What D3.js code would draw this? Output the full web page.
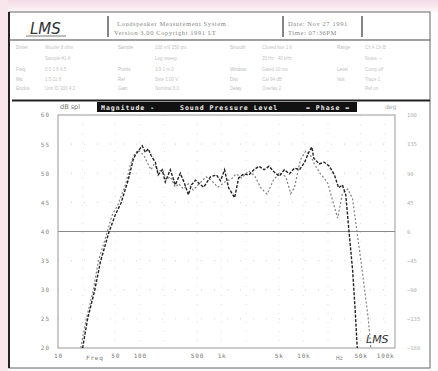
<!DOCTYPE html>
<html><head><meta charset="utf-8">
<script src="https://cdn.jsdelivr.net/npm/d3@7"></script>
<style>html,body{margin:0;padding:0;background:#fff;}svg{display:block;}</style>
</head><body>
<svg id="c" width="438" height="371"></svg>
<script>
// ---- data ----
const yTicks = [20,25,30,35,40,45,50,55,60];
const phaseTicks = [-180,-135,-90,-45,0,45,90,135,180];
const xTickVals = [10,50,100,500,1000,5000,10000,50000,100000];
const xTickLabels = ["10","50","100","500","1k","5k","10k","50k","100k"];
const magFreq = [20,23,28,33,42,50,59,72,83,88,98,107,117,127,138,155,168,188,205,236,272,313,351,393,428,481,536,604,732,867,971,1088,1219,1444,1618,1866,2153,2484,2866,3306,3814,4400,5076,5856,6757,7795,8993,10375,11650,12700,13400,15600,18000,20800,24000,27000,30000,33000,36000,40000,43000,45600];
const magDb = [20,25,29.8,34.8,39.9,42.8,44.9,48.8,52.3,53.1,54,54.7,53.6,54.2,53,51.9,49.7,50.6,48.5,50.6,48,50,48.3,46.3,48,48.8,48.2,47.6,49.4,49.7,48.7,50.6,47.5,45.8,49.2,49.9,49.7,50.6,51.2,50.6,51.2,50.2,49.5,50.6,49.9,50.9,50.6,51.9,53.6,54.5,52.6,51.6,51.9,51.2,49.7,47.5,48,46.3,40.3,33.4,26.5,20];
const refFreq = [19,22,27,31,39,46,54,67,77,85,95,112,125,137,150,168,190,210,236,272,300,340,393,450,540,650,760,900,1100,1340,1500,1760,2150,2550,3050,3600,4300,5100,6100,7000,7800,9200,10700,12200,13600,16200,18000,20000,23300,26300,30000,35000,40000,45000,50000,56000,62000,67000];
const refDb = [20,24.8,29.9,34.8,39.4,42.8,44.6,48.1,51.5,53.1,54,53.1,51.7,50.6,51.6,50.3,50.6,48.9,49.4,47.6,48.2,47.3,48.2,47.1,48.3,49.4,48.7,47.6,48.5,49.1,49.9,49.2,50.4,49.5,47.4,46.4,48.8,50.1,49.4,46.5,47.6,52.3,53.8,53.1,51.6,49.9,49.1,48.2,44.8,42.3,46.5,47.3,45.6,40.2,35.5,30.1,25.2,20];

// ---- page ----
const svg = d3.select("#c");
const defs = svg.append("defs");
const g1 = defs.append("linearGradient").attr("id","pink").attr("x1",0).attr("y1",0).attr("x2",0).attr("y2",1);
g1.append("stop").attr("offset","0").attr("stop-color","#f3d9e4");
g1.append("stop").attr("offset","1").attr("stop-color","#fdf7f9");
svg.append("rect").attr("width",438).attr("height",371).attr("fill","#fefcfc");
svg.append("rect").attr("width",438).attr("height",12).attr("fill","url(#pink)");
svg.append("rect").attr("width",8).attr("height",371).attr("fill","#f8e6ed");

// outer frame
svg.append("rect").attr("x",9).attr("y",12).attr("width",421).attr("height",356)
  .attr("fill","#fff").attr("stroke","#666").attr("stroke-width",1);
svg.append("line").attr("x1",9).attr("x2",9).attr("y1",12).attr("y2",368).attr("stroke","#222").attr("stroke-width",2);

// header row
svg.append("line").attr("x1",9).attr("x2",430).attr("y1",40).attr("y2",40).attr("stroke","#444").attr("stroke-width",1.2);
[108,283,362].forEach(x=>svg.append("line").attr("x1",x).attr("x2",x).attr("y1",16).attr("y2",37).attr("stroke","#333").attr("stroke-width",1.2));
svg.append("text").attr("x",30).attr("y",34).attr("font-family","DejaVu Sans").attr("font-style","italic")
  .attr("font-size",15).attr("fill","#333").text("LMS");
svg.append("line").attr("x1",26).attr("x2",66).attr("y1",36).attr("y2",36).attr("stroke","#555").attr("stroke-width",0.8);
const hdr = [
  [117,26,"Loudspeaker Measurement System"],[114,35,"Version 3.00   Copyright 1991 LT"],
  [288,26,"Date: Nov 27 1991"],[288,35,"Time: 07:36PM"]];
hdr.forEach(d=>svg.append("text").attr("x",d[0]).attr("y",d[1]).attr("font-family","Liberation Serif")
  .attr("font-size",6.5).attr("fill","#888").attr("letter-spacing",0.6).text(d[2]));

// spec table (faint)
const rowsY = [49,60,71,81,90];
const labelCols = [16,118,230,337];
const valCols = [45,155,262,365];
const labels = [["Driver","","Freq","Mic","Enclos"],["Sample","","Points","Ref","Gain"],["Smooth","","Window","Dist","Delay"],["Range","","Level","Volt",""]];
const vals = [["Woofer 8 ohm","Sample #1 A","  0.5  1.6  4.5","  1.5  11  8","Unit ID 300 4 2"],
  ["100 mV  250 pts","Log sweep","1/3  1 m  0","Sine  1.00 V","Nominal 8.0"],
  ["Closed box  1 ft","20 Hz - 40 kHz","Gated  10 ms","Cal 94 dB","Overlay  2"],
  ["Ch A  Ch B","Notes  ---","Comp  off","Trace  1","Ref  on"]];
labels.forEach((col,i)=>col.forEach((t,j)=>svg.append("text").attr("x",labelCols[i]).attr("y",rowsY[j])
  .attr("font-family","Liberation Sans").attr("font-size",4.5).attr("fill","#bbb").text(t)));
vals.forEach((col,i)=>col.forEach((t,j)=>svg.append("text").attr("x",valCols[i]).attr("y",rowsY[j])
  .attr("font-family","Liberation Sans").attr("font-size",4.5).attr("fill","#c4c4c4").text(t)));
svg.append("line").attr("x1",12).attr("x2",430).attr("y1",100.5).attr("y2",100.5).attr("stroke","#222").attr("stroke-width",2);

// ---- chart ----
const L=58,R=395,T=115,B=348;
const x = d3.scaleLog().domain([10,132000]).range([L,R]);
const y = d3.scaleLinear().domain([20,60]).range([B,T]);
const yP = d3.scaleLinear().domain([-180,180]).range([B,T]);

// grid
const gridF = [20,50,100,200,500,1000,2000,5000,10000,20000,50000,100000];
svg.append("g").selectAll("line").data(gridF).join("line")
  .attr("x1",d=>x(d)).attr("x2",d=>x(d)).attr("y1",T).attr("y2",B)
  .attr("stroke","#d4d4d4").attr("stroke-width",0.8).attr("stroke-dasharray","1,8");
svg.append("g").selectAll("line").data(yTicks.slice(1,-1)).join("line")
  .attr("x1",L).attr("x2",R).attr("y1",d=>y(d)).attr("y2",d=>y(d))
  .attr("stroke","#c8c8c8").attr("stroke-width",0.8).attr("stroke-dasharray","1,12");
svg.append("line").attr("x1",L).attr("x2",R).attr("y1",y(40)).attr("y2",y(40)).attr("stroke","#888").attr("stroke-width",1);
svg.append("rect").attr("x",L).attr("y",T).attr("width",R-L).attr("height",B-T)
  .attr("fill","none").attr("stroke","#999").attr("stroke-width",1);

// axes
const yAx = svg.append("g").attr("transform",`translate(${L},0)`)
  .call(d3.axisLeft(y).tickValues(yTicks).tickSize(0).tickPadding(8).tickFormat(d3.format("d")));
yAx.select(".domain").remove();
yAx.selectAll("text").attr("font-family","DejaVu Sans Mono").attr("font-size",6).attr("fill","#888").attr("letter-spacing",1);
const pAx = svg.append("g").attr("transform",`translate(${R},0)`)
  .call(d3.axisRight(yP).tickValues(phaseTicks).tickSize(0).tickPadding(12).tickFormat(d3.format("d")));
pAx.select(".domain").remove();
pAx.selectAll("text").attr("font-family","DejaVu Sans Mono").attr("font-size",5.5).attr("fill","#b0b0b0");
const xAx = svg.append("g").attr("transform",`translate(0,${B})`)
  .call(d3.axisBottom(x).tickValues(xTickVals).tickSize(0).tickPadding(6).tickFormat((d,i)=>xTickLabels[i]));
xAx.select(".domain").remove();
xAx.selectAll("text").attr("font-family","DejaVu Sans Mono").attr("font-size",6).attr("fill","#777").attr("letter-spacing",0.8);
svg.append("text").attr("x",x(22)).attr("y",B+12).attr("font-family","DejaVu Sans Mono").attr("font-size",6)
  .attr("fill","#777").attr("letter-spacing",0.8).text("Freq");
svg.append("text").attr("x",x(25000)).attr("y",B+12).attr("font-family","DejaVu Sans Mono").attr("font-size",6)
  .attr("fill","#888").text("Hz");

svg.append("text").attr("x",L+2).attr("y",T-6).attr("font-family","DejaVu Sans").attr("font-size",6.5)
  .attr("fill","#777").text("dB spl");
svg.append("text").attr("x",R-10).attr("y",T-6).attr("font-family","DejaVu Sans").attr("font-size",6)
  .attr("fill","#aaa").text("deg");

// title bar
svg.append("rect").attr("x",97).attr("y",102).attr("width",260).attr("height",10).attr("fill","#111");
[[101,"Magnitude -"],[180,"Sound Pressure Level"],[306,"= Phase ="]].forEach(d=>
  svg.append("text").attr("x",d[0]).attr("y",110).attr("font-family","DejaVu Sans Mono").attr("font-weight","bold")
   .attr("font-size",6.5).attr("fill","#eee").attr("letter-spacing",1).text(d[1]));

// traces
const line = d3.line().x(d=>x(d[0])).y(d=>y(d[1]));
svg.append("path").datum(refFreq.map((f,i)=>[f,refDb[i]])).attr("d",line)
  .attr("fill","none").attr("stroke","#808080").attr("stroke-width",1.2).attr("stroke-dasharray","2,2");
svg.append("path").datum(magFreq.map((f,i)=>[f,magDb[i]])).attr("d",line)
  .attr("fill","none").attr("stroke","#222").attr("stroke-width",1.4).attr("stroke-dasharray","3,1.5");

// LMS logo in plot
svg.append("text").attr("x",366).attr("y",343).attr("font-family","DejaVu Sans").attr("font-style","italic")
  .attr("font-size",11).attr("fill","#333").text("LMS");
</script>
</body></html>
